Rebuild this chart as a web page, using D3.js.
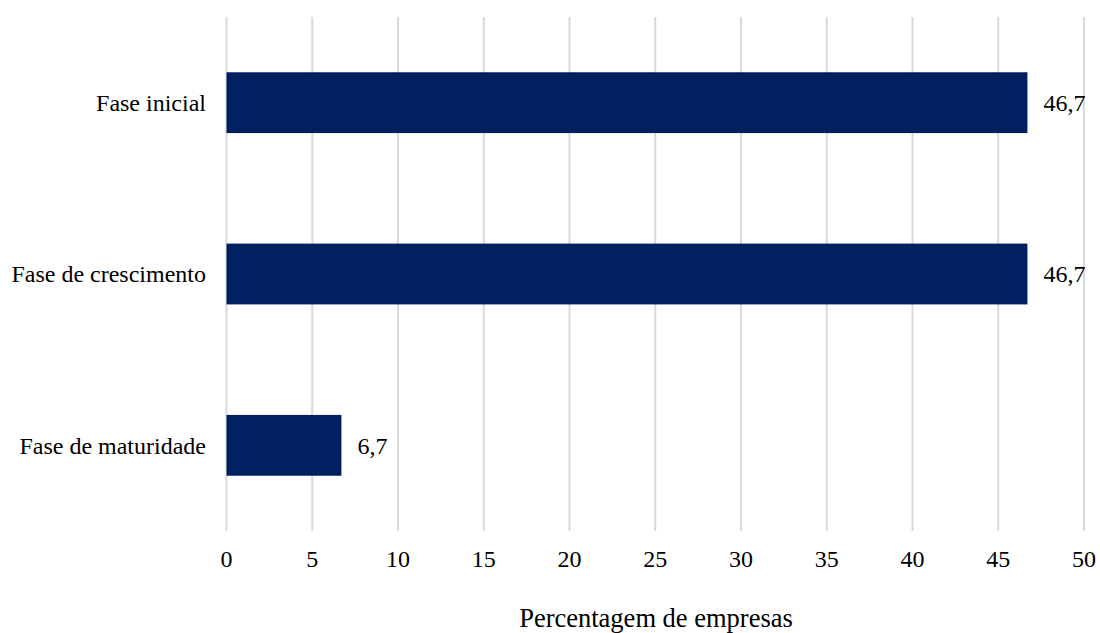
<!DOCTYPE html>
<html><head><meta charset="utf-8">
<script src="https://cdn.jsdelivr.net/npm/d3@7"></script>
<style>body{margin:0;background:#fff}</style>
</head><body>
<svg id="c" width="1100" height="633"></svg>
<script>
const categories = ["Fase inicial", "Fase de crescimento", "Fase de maturidade"];
const values = [46.7, 46.7, 6.7];
const valueLabels = ["46,7", "46,7", "6,7"];
const ticks = [0, 5, 10, 15, 20, 25, 30, 35, 40, 45, 50];
const xTitle = "Percentagem de empresas";

const svg = d3.select("#c");
const font = "'Liberation Serif','Times New Roman',serif";
const x = d3.scaleLinear().domain([0, 50]).range([226.5, 1084]);
const y = d3.scaleBand().domain(categories).range([17, 531]).paddingInner(0.645).paddingOuter(0.3225);

svg.append("g").selectAll("line").data(ticks).join("line")
  .attr("x1", d => x(d)).attr("x2", d => x(d))
  .attr("y1", 17).attr("y2", 531)
  .attr("stroke", "#d9d9d9").attr("stroke-width", 2);

svg.append("g").selectAll("rect").data(categories).join("rect")
  .attr("x", x(0)).attr("y", (d) => y(d))
  .attr("width", (d, i) => x(values[i]) - x(0))
  .attr("height", y.bandwidth())
  .attr("fill", "#00205f");

svg.append("g").selectAll("text").data(categories).join("text")
  .attr("x", (d, i) => x(values[i]) + 16)
  .attr("y", d => y(d) + y.bandwidth() / 2)
  .attr("dy", "0.35em")
  .attr("font-family", font).attr("font-size", 24).attr("fill", "#000")
  .text((d, i) => valueLabels[i]);

svg.append("g").selectAll("text").data(categories).join("text")
  .attr("x", 206)
  .attr("y", d => y(d) + y.bandwidth() / 2)
  .attr("dy", "0.35em")
  .attr("text-anchor", "end")
  .attr("font-family", font).attr("font-size", 24).attr("fill", "#000")
  .text(d => d);

svg.append("g").selectAll("text").data(ticks).join("text")
  .attr("x", d => x(d)).attr("y", 567)
  .attr("text-anchor", "middle")
  .attr("font-family", font).attr("font-size", 24).attr("fill", "#000")
  .text(d => d);

svg.append("text").attr("x", 656).attr("y", 627)
  .attr("text-anchor", "middle")
  .attr("font-family", font).attr("font-size", 26.5).attr("fill", "#000")
  .text(xTitle);
</script>
</body></html>
